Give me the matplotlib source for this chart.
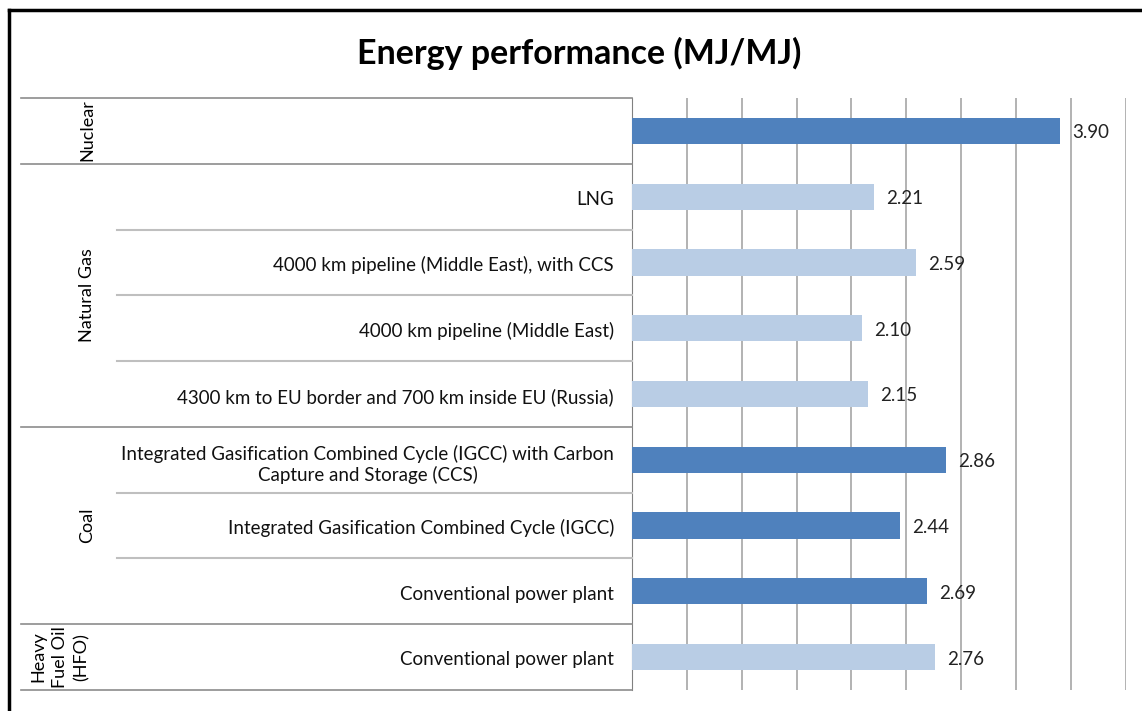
import matplotlib.pyplot as plt
from matplotlib.lines import Line2D
import numpy as np

plt.rcParams['font.family'] = ['Lato', 'DejaVu Sans']

# data, top to bottom
labels = ['',
          'LNG',
          '4000 km pipeline (Middle East), with CCS',
          '4000 km pipeline (Middle East)',
          '4300 km to EU border and 700 km inside EU (Russia)',
          'Integrated Gasification Combined Cycle (IGCC) with Carbon\nCapture and Storage (CCS)',
          'Integrated Gasification Combined Cycle (IGCC)',
          'Conventional power plant',
          'Conventional power plant']
values = [3.90, 2.21, 2.59, 2.10, 2.15, 2.86, 2.44, 2.69, 2.76]
groups = ['Nuclear', 'Natural Gas', 'Coal', 'Heavy\nFuel Oil\n(HFO)']
group_sizes = [1, 4, 3, 1]
group_dark = [True, False, True, False]

DARK = '#4F81BD'
LIGHT = '#B9CDE5'

W, H = 1142, 711
fig = plt.figure(figsize=(W / 100, H / 100), dpi=100)

def fx(px):
    return px / W

def fy(py):
    return 1 - py / H

ax_left, ax_right, ax_top, ax_bot = 632, 1125.7, 98, 690
ax = fig.add_axes([fx(ax_left), fy(ax_bot), fx(ax_right - ax_left), fy(ax_top) - fy(ax_bot)])

n = len(values)
y = np.arange(n)
colors = []
for g, size in enumerate(group_sizes):
    colors += [DARK if group_dark[g] else LIGHT] * size

ax.barh(y, values, height=0.4, color=colors, zorder=3)
for yi, v in zip(y, values):
    ax.text(v + 0.11, yi + 0.03, f'{v:.2f}', va='center', ha='left', fontsize=13.5,
            color='#222222', zorder=4)

ax.set_xlim(0, 4.5)
ax.set_ylim(n - 0.5, -0.5)
ax.set_xticks(np.arange(0.5, 4.51, 0.5))
ax.xaxis.grid(True, color='#A6A6A6', linewidth=1.2, zorder=0)
ax.tick_params(axis='x', length=0, labelbottom=False)
ax.set_yticks(y + 0.02)
ax.set_yticklabels(labels, fontsize=13.5, color='#111111')
for t in ax.get_yticklabels():
    t.set_multialignment('center')
ax.tick_params(axis='y', length=0, pad=13)
for s in ['top', 'right', 'bottom']:
    ax.spines[s].set_visible(False)
ax.spines['left'].set_color('#808080')

# category table lines and group labels
row_h = (ax_bot - ax_top) / n
start = 0
for g, size in enumerate(group_sizes):
    top_px = ax_top + start * row_h
    fig.add_artist(Line2D([fx(21), fx(ax_left)], [fy(top_px)] * 2, color='#8C8C8C', lw=1.2))
    for k in range(1, size):
        py = top_px + k * row_h
        fig.add_artist(Line2D([fx(117), fx(ax_left)], [fy(py)] * 2, color='#BFBFBF', lw=1.5))
    cy = top_px + size * row_h / 2
    if g == 3:
        fig.text(fx(60), fy(cy), groups[g], rotation=90, ha='center', va='center',
                 fontsize=13, linespacing=1.4, multialignment='center')
    elif g == 0:
        fig.text(fx(87), fy(top_px + 1), groups[g], rotation=90, ha='center', va='top', fontsize=13)
    else:
        fig.text(fx(87), fy(cy), groups[g], rotation=90, ha='center', va='center', fontsize=13)
    start += size
fig.add_artist(Line2D([fx(21), fx(ax_left)], [fy(ax_bot)] * 2, color='#8C8C8C', lw=1.2))

# outer frame
fig.add_artist(Line2D([fx(9), fx(9)], [fy(10), 0], color='black', lw=2.5))
fig.add_artist(Line2D([fx(9), 1], [fy(10), fy(10)], color='black', lw=2.5))

fig.text(fx(579), fy(53), 'Energy performance (MJ/MJ)', ha='center', va='center',
         fontsize=24.5, fontweight='bold')

fig.savefig('out.png', dpi=100)
